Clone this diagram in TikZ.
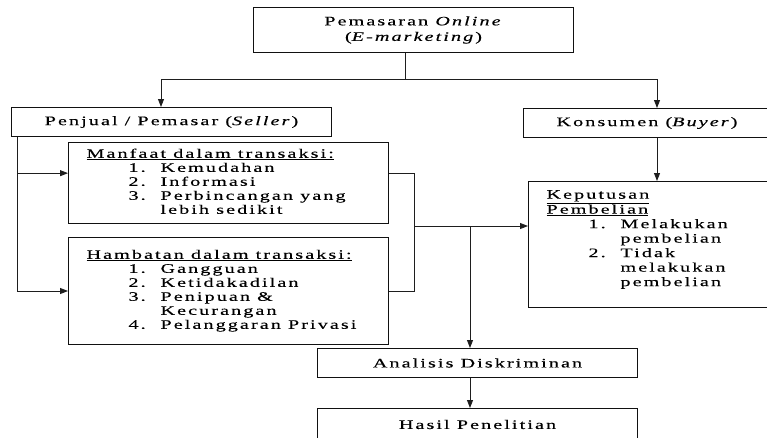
\documentclass[tikz,border=0pt]{standalone}
\usepackage{fontspec}
\setmainfont{Liberation Serif}[FakeStretch=1.55,LetterSpace=16,FakeBold=0.25]
\usepackage{tikz}
\usetikzlibrary{arrows.meta,calc}
\definecolor{ink} {HTML}{111111}
\definecolor{wire}{HTML}{1E1E1E}
\newcommand{\numitem}[2]{\hspace*{42pt}\makebox[32pt][l]{#1}#2}
\newcommand{\numcont}[1]{\hspace*{74pt}#1}
\newcommand{\listtext}[2]{\makebox[#1][l]{\begin{tabular}{@{}l@{}}#2\end{tabular}}}
\tikzset{
  box/.style     ={draw=ink, fill=white, line width=1pt, anchor=north west,
                   inner sep=0pt, align=center,
                   font=\fontsize{13}{15.5}\selectfont},
  listbox/.style ={box, inner xsep=18pt, font=\fontsize{13}{14}\selectfont},
  arr/.style     ={-{Triangle[length=8pt,width=6pt]}, line width=0.9pt, draw=wire},
  wire/.style    ={line width=0.9pt, draw=wire},
}
\begin{document}
\begin{tikzpicture}[x=1pt,y=-1pt]
  \useasboundingbox (0,0) rectangle (767,437);
  \clip (0,0) rectangle (767,437);

  \node[box,minimum width=320pt,minimum height=45pt] (emark) at (253,7)
    {Pemasaran \textit{Online}\\(\textit{E-marketing})};
  \node[box,minimum width=320pt,minimum height=29pt] (seller) at (11,107)
    {Penjual / Pemasar (\textit{Seller})};
  \node[box,minimum width=247pt,minimum height=29pt] (konsumen) at (523,108)
    {Konsumen (\textit{Buyer})};

  \node[listbox,minimum width=320pt,minimum height=81pt] (manfaat) at (68,142)
    {\listtext{284pt}{\underline{Manfaat dalam transaksi:}\\
     \numitem{1.}{Kemudahan}\\
     \numitem{2.}{Informasi}\\
     \numitem{3.}{Perbincangan yang}\\
     \numcont{lebih sedikit}}};
  \node[listbox,minimum width=320pt,minimum height=107pt] (hambatan) at (68,237)
    {\listtext{284pt}{\underline{Hambatan dalam transaksi:}\\
     \numitem{1.}{Gangguan}\\
     \numitem{2.}{Ketidakadilan}\\
     \numitem{3.}{Penipuan \&}\\
     \numcont{Kecurangan}\\
     \numitem{4.}{Pelanggaran Privasi}}};
  \node[listbox,minimum width=242pt,minimum height=126pt,
        font=\fontsize{13}{14.5}\selectfont] (keputusan) at (528,181)
    {\listtext{206pt}{\underline{Keputusan}\\
     \underline{Pembelian}\\
     \numitem{1.}{Melakukan}\\
     \numcont{pembelian}\\
     \numitem{2.}{Tidak}\\
     \numcont{melakukan}\\
     \numcont{pembelian}\\[10pt]}};

  \node[box,minimum width=320pt,minimum height=29pt] (analisis) at (317,348)
    {Analisis Diskriminan};
  \node[box,minimum width=320pt,minimum height=32pt] (hasil) at (317,408)
    {Hasil Penelitian};

  % junctions
  \coordinate (jtop) at (405,79);
  \coordinate (sl) at (161,79);
  \coordinate (kr) at (657,79);
  \coordinate (lbus) at (17,173);
  \coordinate (rbus) at (414,226);
  \coordinate (down) at (470,226);
  \coordinate (mL) at ($(manfaat.north west)!0.38!(manfaat.south west)$);

  \draw[wire] (emark.south -| jtop) -- (jtop);
  \draw[wire] (sl) -- (kr);
  \draw[arr] (sl) -- (sl |- seller.north);
  \draw[arr] (kr) -- (kr |- konsumen.north);
  \draw[arr] (konsumen.south -| kr) -- (keputusan.north -| kr);

  \draw[wire] (seller.south -| lbus) -- (lbus |- hambatan.west);
  \draw[arr] (lbus |- mL) -- (mL);
  \draw[arr] (lbus |- hambatan.west) -- (hambatan.west);

  \draw[wire] (manfaat.east |- mL) -- (rbus |- mL) -- (rbus |- hambatan.east)
    -- (hambatan.east);
  \draw[arr] (rbus) -- (keputusan.west |- rbus);
  \draw[arr] (down) -- (down |- analisis.north);
  \draw[arr] (analisis.south -| down) -- (hasil.north -| down);
\end{tikzpicture}
\end{document}
